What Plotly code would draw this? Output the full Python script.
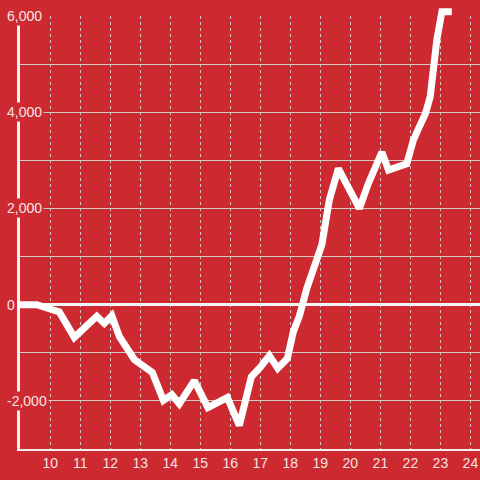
import plotly.graph_objects as go

hours = [8.9, 9.55, 10.3, 10.8, 11.55, 11.8, 12.05, 12.3, 12.8, 13.2, 13.4, 13.77,
         14.05, 14.3, 14.8, 15.25, 15.65, 15.9, 16.3, 16.7, 17.0, 17.3, 17.58, 17.9,
         18.1, 18.3, 18.55, 18.82, 19.05, 19.3, 19.6, 20.3, 20.6, 21.05, 21.27, 21.88,
         22.1, 22.27, 22.5, 22.66, 22.77, 22.88, 23.05, 23.38]
values = [0, 0, -150, -680, -240, -390, -230, -660, -1140, -1320, -1410, -1990,
          -1870, -2060, -1580, -2140, -2030, -1930, -2510, -1500, -1300, -1060, -1320, -1120,
          -560, -240, 340, 840, 1250, 2180, 2830, 2000, 2520, 3170, 2800, 2930,
          3420, 3660, 3970, 4320, 4940, 5500, 6090, 6090]

x_ticks = list(range(10, 25))
y_label_vals = [6000, 4000, 2000, 0, -2000]
y_label_text = ["6,000", "4,000", "2,000", "0", "-2,000"]

RED = "#cc2a30"
TXT = "#f5e4e4"
GRID = "#d2c8c8"
FONT = "Liberation Sans, Arial, sans-serif"

W, H = 480, 480
B = 31            # bottom margin
L_PX = 20.3       # left offset of the value axis inside the plotting area
T_PX = 16         # top offset of the 6,000 line
X0, X1 = 9, 24.32
Y0, Y1 = -3000, 6000
plot_h = H - B
px_x = (W - L_PX) / (X1 - X0)
px_y = (plot_h - T_PX) / (Y1 - Y0)

fig = go.Figure()
# data trace on a full-area (invisible) axis pair so the line is not clipped at the 6,000 line
fig.add_trace(go.Scatter(x=hours, y=values, mode="lines", xaxis="x2", yaxis="y2",
                         line=dict(color="white", width=7),
                         cliponaxis=False, hoverinfo="skip"))

for v, t in zip(y_label_vals, y_label_text):
    fig.add_annotation(x=X0, y=v, xref="x", yref="y", text=t, showarrow=False,
                       xanchor="left", yanchor="middle", xshift=-15,
                       bgcolor=RED, borderpad=1,
                       font=dict(family=FONT, size=14, color=TXT))

fig.update_layout(
    width=W, height=H,
    margin=dict(l=0, r=0, t=0, b=B),
    paper_bgcolor=RED, plot_bgcolor="rgba(0,0,0,0)",
    showlegend=False,
    font=dict(family=FONT, size=14, color=TXT),
    xaxis=dict(domain=[L_PX / W, 1], range=[X0, X1], anchor="y",
               tickvals=x_ticks, ticktext=[str(v) for v in x_ticks],
               showgrid=True, gridcolor=GRID, gridwidth=1, griddash="dot",
               showline=True, linecolor="#eeeeee", linewidth=2,
               zeroline=False, ticks="", tickfont=dict(family=FONT, size=14, color=TXT)),
    yaxis=dict(domain=[0, (plot_h - T_PX) / plot_h], range=[Y0, Y1], anchor="x",
               dtick=1000, tick0=0,
               showgrid=True, gridcolor=GRID, gridwidth=1,
               showline=True, linecolor="#f2f2f2", linewidth=3,
               zeroline=True, zerolinecolor="#f5f5f5", zerolinewidth=3,
               showticklabels=False, ticks=""),
    xaxis2=dict(domain=[0, 1], range=[X0 - L_PX / px_x, X1], anchor="y2", visible=False),
    yaxis2=dict(domain=[0, 1], range=[Y0, Y1 + T_PX / px_y], anchor="x2", visible=False),
)

fig.write_html("out.html", config={"displayModeBar": False, "staticPlot": True},
               post_script="document.body.style.margin='0';document.body.style.overflow='hidden';")
